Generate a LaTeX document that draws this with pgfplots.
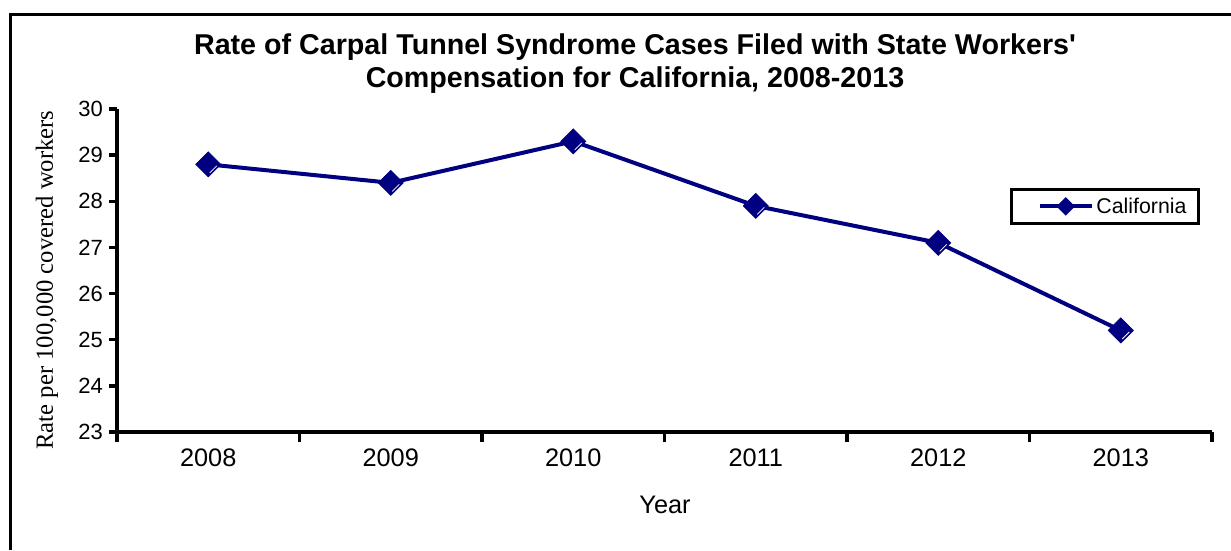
\documentclass[border=0pt]{standalone}
\usepackage{fontspec}
\setmainfont{Liberation Sans}
\newfontfamily\serifa{Liberation Serif}
\usepackage{pgfplots}
\pgfplotsset{compat=1.18}
\definecolor{navy}{RGB}{0,0,128}

% diamond with a thin white highlight on its lower right edge
\pgfdeclareplotmark{cdiam}{%
  \pgfpathmoveto{\pgfqpoint{0pt}{\pgfplotmarksize}}%
  \pgfpathlineto{\pgfqpoint{\pgfplotmarksize}{0pt}}%
  \pgfpathlineto{\pgfqpoint{0pt}{-\pgfplotmarksize}}%
  \pgfpathlineto{\pgfqpoint{-\pgfplotmarksize}{0pt}}%
  \pgfpathclose
  \pgfusepathqfillstroke
  \begin{pgfscope}
    \pgfsetcolor{white}\pgfsetlinewidth{0.6pt}%
    \pgfpathmoveto{\pgfqpoint{0.12\pgfplotmarksize}{-0.68\pgfplotmarksize}}%
    \pgfpathlineto{\pgfqpoint{0.68\pgfplotmarksize}{-0.12\pgfplotmarksize}}%
    \pgfusepathqstroke
  \end{pgfscope}
}

\begin{document}
\begin{tikzpicture}
  \useasboundingbox (0,0) rectangle (923.25pt,412.5pt);
  \draw[line width=2.25pt] (7.5pt,0) -- (7.5pt,401.25pt) -- (924pt,401.25pt);

  \begin{axis}[
      at={(87.75pt,88.5pt)}, anchor=south west,
      scale only axis,
      width=821.25pt, height=242.25pt,
      xmin=-0.5, xmax=5.5,
      ymin=23, ymax=30,
      axis x line*=bottom, axis y line*=left,
      axis line style={line width=2.7pt, -},
      xtick={0,...,5},
      xticklabels={2008,2009,2010,2011,2012,2013},
      major x tick style={draw=none},
      minor xtick={-0.5,0.5,...,5.5},
      minor x tick style={line width=2.5pt, black},
      minor tick length=7.5pt,
      ytick={23,...,30},
      ytick style={line width=2.5pt, black},
      major tick length=6pt,
      tick align=outside,
      /pgf/number format/assume math mode=true,
      xticklabel style={font=\fontsize{19}{22}\selectfont, yshift=-3pt},
      yticklabel style={font=\fontsize{16.5}{18}\selectfont, xshift=-1pt},
      legend style={at={(0.989,0.755)}, anchor=north east, draw=black,
        line width=2.2pt, font=\fontsize{16}{18}\selectfont,
        inner xsep=7pt, inner ysep=4pt},
      legend cell align=left,
      legend image code/.code={
        \path (-13pt,0pt);
        \draw[#1, mark=none] (0pt,0pt) -- (39pt,0pt);
        \draw[#1, only marks, mark=square*, mark size=3.4pt,
          mark options={rotate=45}] plot coordinates {(19.5pt,0pt)};
      },
    ]
    \addplot[color=navy, line width=3pt, mark=cdiam,
      mark size=9.4pt, mark options={solid, line width=0.5pt}]
      coordinates {(0,28.8) (1,28.4) (2,29.3) (3,27.9) (4,27.1) (5,25.2)};
    \addlegendentry{California}
  \end{axis}

  \node[font=\bfseries\fontsize{21.5}{24.75}\selectfont, align=center]
    at (476.25pt,364.5pt)
    {Rate of Carpal Tunnel Syndrome Cases Filed with State Workers\textquotesingle\\
     Compensation for California, 2008-2013};
  \node[font=\serifa\fontsize{18.5}{20}\selectfont, rotate=90]
    at (35.25pt,202.5pt) {Rate per 100,000 covered workers};
  \node[font=\fontsize{19}{22}\selectfont] at (498.75pt,33.75pt) {Year};
\end{tikzpicture}
\end{document}
